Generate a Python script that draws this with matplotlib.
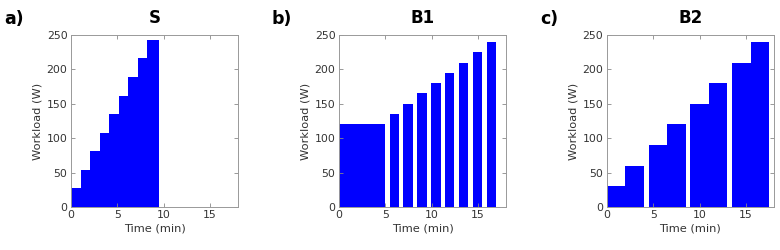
import matplotlib
matplotlib.use("Agg")
import matplotlib.pyplot as plt

plt.rcParams["font.family"] = ["DejaVu Sans"]

# panel a: continuous ramp (step edges in min, workload W)
s_edges = [0, 1.05, 2.1, 3.1, 4.15, 5.2, 6.2, 7.25, 8.25, 9.45]
s_loads = [27, 54, 81, 108, 135, 162, 189, 216, 243]

# panel b: 5 min warm-up then 1 min stages
b1_starts = [0, 5.45, 6.95, 8.45, 9.95, 11.45, 12.95, 14.45, 15.95]
b1_widths = [5.0, 1, 1, 1, 1, 1, 1, 1, 1]
b1_loads = [120, 135, 150, 165, 180, 195, 210, 225, 240]

# panel c: 4 min blocks of two 2 min stages
b2_blocks = [(0, 4), (4.5, 8.5), (9, 13), (13.5, 17.5)]
b2_step = [2, 6.5, 11, 15.5]
b2_loads = [(30, 60), (90, 120), (150, 180), (210, 240)]

blue = "#0000ff"
txt = "#333333"
fig = plt.figure(figsize=(7.8, 2.5), dpi=100)
lefts = [0.091, 0.4346, 0.778]
axes = [fig.add_axes([l, 0.172, 0.214, 0.688]) for l in lefts]

# a
ax = axes[0]
xs, ys = [], []
for i, w in enumerate(s_loads):
    xs += [s_edges[i], s_edges[i + 1]]
    ys += [w, w]
ax.fill_between(xs, ys, 0, color=blue, lw=0)

# b
ax = axes[1]
ax.bar(b1_starts, b1_loads, width=b1_widths, align="edge", color=blue, lw=0)

# c
ax = axes[2]
for (x0, x1), xm, (w1, w2) in zip(b2_blocks, b2_step, b2_loads):
    ax.fill_between([x0, xm, xm, x1], [w1, w1, w2, w2], 0, color=blue, lw=0)

titles = ["S", "B1", "B2"]
tags = ["a)", "b)", "c)"]
for ax, t, tag in zip(axes, titles, tags):
    ax.set_xlim(0, 18)
    ax.set_ylim(0, 250)
    ax.set_xticks([0, 5, 10, 15])
    ax.set_yticks([0, 50, 100, 150, 200, 250])
    ax.tick_params(direction="in", length=3, width=0.6, top=True, right=True,
                   labelsize=7.8, colors="#888888", labelcolor=txt, pad=2.5)
    for sp in ax.spines.values():
        sp.set_color("#999999")
        sp.set_linewidth(0.7)
    ax.set_xlabel("Time (min)", fontsize=8.2, color=txt, labelpad=2)
    ax.set_ylabel("Workload (W)", fontsize=8.2, color=txt, labelpad=3)
    ax.set_title(t, fontsize=12, fontweight="bold", pad=9)
    pos = ax.get_position()
    fig.text(pos.x0 - 0.086, 0.925, tag, fontsize=12.5, fontweight="bold",
             ha="left", va="center")

fig.savefig("out.png", dpi=100)
